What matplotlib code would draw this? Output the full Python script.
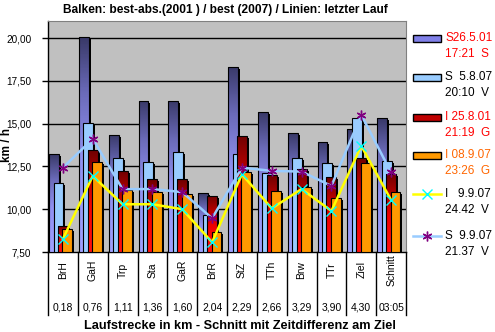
import matplotlib

matplotlib.use("Agg")
import matplotlib.pyplot as plt
import numpy as np
from matplotlib.colors import LinearSegmentedColormap
from matplotlib.lines import Line2D
from matplotlib.patches import Rectangle
import matplotlib.transforms as mtransforms

plt.rcParams["font.family"] = ["Liberation Sans", "DejaVu Sans"]

W, H = 495, 332

CATEGORIES = ["BrH", "GaH", "Trp", "Sta", "GaR", "BrR", "StZ", "TTh", "Brw", "TTr", "Ziel", "Schnitt"]
DISTANCES = ["0,18", "0,76", "1,11", "1,36", "1,60", "2,04", "2,29", "2,66", "3,29", "3,90", "4,30", "03:05"]

# bars: best-abs 2001 / best 2007 (km/h)
S_2001 = [13.21, 20.04, 14.34, 16.33, 16.33, 10.93, 18.34, 15.67, 14.44, 13.95, 14.68, 15.32]
S_2007 = [11.55, 15.03, 12.98, 12.75, 13.33, 9.65, 13.21, 12.10, 13.02, 12.69, 15.32, 12.82]
I_2001 = [9.04, 13.46, 12.24, 11.75, 11.75, 10.80, 14.28, 12.00, 12.33, 11.87, 13.02, 12.06]
I_2007 = [8.83, 12.75, 11.13, 11.00, 10.87, 8.65, 12.16, 11.08, 11.32, 10.68, 12.72, 11.00]
# lines: last run
I_LAST = [8.26, 11.94, 10.29, 10.29, 10.00, 8.07, 12.04, 10.05, 11.18, 9.90, 13.70, 10.54]
S_LAST = [12.43, 14.11, 11.17, 11.18, 11.00, 9.47, 12.43, 12.24, 12.20, 11.36, 15.51, 12.15]

BAR_LABELS = [("S26.5.01", "17:21  S"), ("S  5.8.07", "20:10  V"),
              ("I 25.8.01", "21:19  G"), ("I 08.9.07", "23:26  G")]
LINE_LABELS = [("I   9.9.07", "24.42  V"), ("S  9.9.07", "21.37  V")]
YTICKS = [7.5, 10.0, 12.5, 15.0, 17.5, 20.0]

Y0, Y1 = 7.5, 21.0
WIDTH = 0.33
OFFSETS = [-0.30, -0.15, 0.0, 0.15]
SH_X, SH_Y = 2 / 29.8, 2 / 17.1  # 2 px drop shadow

# gradients: (position from bottom, colour)
BAR_STYLES = [
    dict(grad=[(0.0, "#a0a0ff"), (0.45, "#9090f0"), (0.75, "#6a6ab8"), (1.0, "#3a3a6a")],
         legend="#8080e8"),
    dict(color="#99ccff"),
    dict(grad=[(0.0, "#ff1010"), (0.45, "#f00000"), (0.75, "#b00000"), (1.0, "#700000")],
         legend="#c00000"),
    dict(color="#ff9900"),
]
LEG_TEXT = ["#ff0000", "#000000", "#ff0000", "#ff6600"]


def px_ax(fig, l, t, r, b):
    return fig.add_axes([l / W, 1 - b / H, (r - l) / W, (b - t) / H])


fig = plt.figure(figsize=(W / 100, H / 100), dpi=100)
ax = px_ax(fig, 48, 21, 406, 252)
ax.set_facecolor("#c0c0c0")
x = np.arange(len(CATEGORIES))

for i, (vals, style) in enumerate(zip([S_2001, S_2007, I_2001, I_2007], BAR_STYLES)):
    z = 2 + i * 2
    xs = x + OFFSETS[i]
    vals = np.array(vals)
    ax.bar(xs + SH_X, vals - Y0 - SH_Y, bottom=Y0, width=WIDTH, color="black", zorder=z)
    if "grad" in style:
        bars = ax.bar(xs, vals - Y0, bottom=Y0, width=WIDTH, facecolor="none",
                      edgecolor="black", linewidth=0.8, zorder=z + 1.5)
        cmap = LinearSegmentedColormap.from_list("g", style["grad"])
        for b in bars:
            bx, bw, bh = b.get_x(), b.get_width(), b.get_height()
            im = ax.imshow(np.linspace(0, 1, 64).reshape(-1, 1), cmap=cmap, origin="lower",
                           extent=[bx, bx + bw, Y0, Y0 + bh], aspect="auto",
                           interpolation="bilinear", vmin=0, vmax=1, zorder=z + 1)
            im.set_clip_path(b)
    else:
        ax.bar(xs, vals - Y0, bottom=Y0, width=WIDTH, color=style["color"],
               edgecolor="black", linewidth=0.8, zorder=z + 1)

ax.plot(x, I_LAST, color="#ffff00", lw=1.8, marker="x", ms=7, mec="#00ffff", mew=1, zorder=20)
ax.plot(x, S_LAST, color="#99ccff", lw=1.8, marker=(6, 2, 0), ms=7, mec="#800080", mew=1, zorder=21)

ax.set_xlim(-0.5, len(CATEGORIES) - 0.5)
ax.set_ylim(Y0, Y1)
ax.set_yticks(YTICKS)
ax.set_yticklabels([f"{v:.2f}".replace(".", ",") for v in YTICKS], fontsize=7.2)
ax.tick_params(axis="y", length=4, width=1, pad=8, direction="out")
ax.set_xticks([])
for v in YTICKS[1:]:
    ax.axhline(v, color="black", lw=1, zorder=1)
for s in ("top", "right"):
    ax.spines[s].set_color("#808080")
ax.spines["left"].set_linewidth(1)
ax.spines["bottom"].set_linewidth(1)

# category table below the axis
tr = mtransforms.blended_transform_factory(ax.transData, ax.transAxes)
bot = -(315 - 252) / (252 - 21)
for k in range(len(CATEGORIES) + 1):
    ax.add_line(Line2D([k - 0.5, k - 0.5], [0, bot], transform=tr, color="black",
                       lw=1, clip_on=False))
for k, (c, d) in enumerate(zip(CATEGORIES, DISTANCES)):
    ax.text(k, -18 / 231, c, transform=tr, rotation=90, ha="center", va="center", fontsize=7.5)
    ax.text(k, -56 / 231, d, transform=tr, ha="center", va="center", fontsize=7.5)

fig.text(225 / W, 1 - 10 / H, "Balken: best-abs.(2001 ) / best (2007) / Linien: letzter Lauf",
         ha="center", va="center", fontsize=8.6, fontweight="bold")
fig.text(240 / W, 1 - 326 / H, "Laufstrecke in km - Schnitt mit Zeitdifferenz am Ziel",
         ha="center", va="center", fontsize=9.2, fontweight="bold")
fig.text(7 / W, 1 - 145 / H, "km / h", rotation=90, ha="center", va="center",
         fontsize=8.5, fontweight="bold")

# legend drawn in pixel space
lg = px_ax(fig, 0, 0, W, H)
lg.set_xlim(0, W)
lg.set_ylim(H, 0)
lg.axis("off")
lg.patch.set_alpha(0)
rows = [38, 77, 117, 155, 194, 236]
for k, ((l1, l2), style) in enumerate(zip(BAR_LABELS, BAR_STYLES)):
    y = rows[k]
    fc = style.get("legend", style.get("color"))
    lg.add_patch(Rectangle((413, y - 3.5), 28, 7, facecolor=fc, edgecolor="black", lw=1))
    lg.text(445, y, l1, color=LEG_TEXT[k], fontsize=8.5, va="center")
    lg.text(445, y + 16, l2, color=LEG_TEXT[k], fontsize=8.5, va="center")
for k, ((l1, l2), lc, mk, mc) in enumerate(zip(
        LINE_LABELS, ["#ffff00", "#99ccff"], ["x", (6, 2, 0)], ["#00ffff", "#800080"])):
    y = rows[4 + k]
    lg.plot([413, 441], [y, y], color=lc, lw=1.8)
    lg.plot([427], [y], marker=mk, ms=7, mec=mc, mew=1, color=lc)
    lg.text(445, y, l1, color="black", fontsize=8.5, va="center")
    lg.text(445, y + 16, l2, color="black", fontsize=8.5, va="center")

fig.savefig("out.png", dpi=100)
